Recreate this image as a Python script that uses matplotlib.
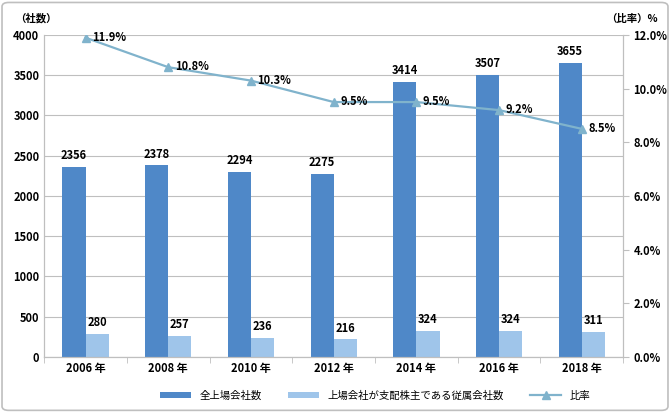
import numpy as np
import matplotlib.pyplot as plt
from matplotlib.patches import FancyBboxPatch
from matplotlib.ticker import FuncFormatter

plt.rcParams['font.family'] = ['Noto Sans CJK JP', 'DejaVu Sans']

# データ
years = ['2006 年', '2008 年', '2010 年', '2012 年', '2014 年', '2016 年', '2018 年']
all_listed = [2356, 2378, 2294, 2275, 3414, 3507, 3655]
subsidiaries = [280, 257, 236, 216, 324, 324, 311]
ratio = [11.9, 10.8, 10.3, 9.5, 9.5, 9.2, 8.5]

dark = '#4f88c8'
light = '#9fc5ea'
line_c = '#80b3cc'

fig = plt.figure(figsize=(6.7, 4.12), dpi=100)
fig.patches.append(FancyBboxPatch((0.003, 0.004), 0.994, 0.99, boxstyle='round,pad=0,rounding_size=0.01',
                                  transform=fig.transFigure, fill=False, edgecolor='#bfbfbf', lw=1.2))
ax = fig.add_axes([0.066, 0.134, 0.864, 0.781])

x = np.arange(len(years))
w = 0.28
ax.bar(x - w / 2, all_listed, w, color=dark, label='全上場会社数', zorder=2)
ax.bar(x + w / 2, subsidiaries, w, color=light, label='上場会社が支配株主である従属会社数', zorder=2)
for i in range(len(x)):
    ax.text(x[i] - w / 2, all_listed[i] + 60, str(all_listed[i]), ha='center', va='bottom', fontsize=8, fontweight='bold')
    ax.text(x[i] + w / 2, subsidiaries[i] + 60, str(subsidiaries[i]), ha='center', va='bottom', fontsize=8, fontweight='bold')

ax.set_ylim(0, 4000)
ax.set_yticks(np.arange(0, 4001, 500))
ax.set_xlim(-0.5, len(years) - 0.5)
ax.set_xticks(x)
ax.set_xticklabels(years, fontsize=8, fontweight='bold')
ax.tick_params(axis='y', labelsize=8, length=0)
for lab in ax.get_yticklabels():
    lab.set_fontweight('bold')
ax.set_xticks(np.arange(-0.5, len(years)), minor=True)
ax.tick_params(axis='x', which='minor', length=4, color='#bfbfbf')
ax.tick_params(axis='x', which='major', length=0)
ax.grid(axis='y', color='#bfbfbf', lw=0.8, zorder=0)
ax.set_axisbelow(True)
ax.spines['top'].set_visible(False)
for s in ['left', 'bottom', 'right']:
    ax.spines[s].set_color('#bfbfbf')

ax2 = ax.twinx()
ax2.plot(x, ratio, color=line_c, lw=1.6, marker='^', markersize=6, label='比率', zorder=3)
for i in range(len(x)):
    ax2.text(x[i] + 0.08, ratio[i] + 0.02, f'{ratio[i]:.1f}%', ha='left', va='center', fontsize=8, fontweight='bold')
ax2.set_ylim(0, 12)
ax2.set_yticks(np.arange(0, 12.1, 2))
ax2.yaxis.set_major_formatter(FuncFormatter(lambda v, p: f'{v:.1f}%'))
ax2.tick_params(axis='y', labelsize=8, length=4, color='#bfbfbf')
for lab in ax2.get_yticklabels():
    lab.set_fontweight('bold')
ax2.spines['top'].set_visible(False)
for s in ['left', 'bottom', 'right']:
    ax2.spines[s].set_color('#bfbfbf')

fig.text(0.022, 0.955, '（社数）', fontsize=7.5, fontweight='bold', va='center')
fig.text(0.905, 0.955, '（比率）%', fontsize=7.5, fontweight='bold', va='center')

h1, l1 = ax.get_legend_handles_labels()
h2, l2 = ax2.get_legend_handles_labels()
fig.legend(h1 + h2, l1 + l2, loc='center', bbox_to_anchor=(0.56, 0.04), ncol=3, frameon=False,
           fontsize=7.5, handlelength=3, handleheight=0.5, columnspacing=2.5)

fig.savefig('out.png', dpi=100)
